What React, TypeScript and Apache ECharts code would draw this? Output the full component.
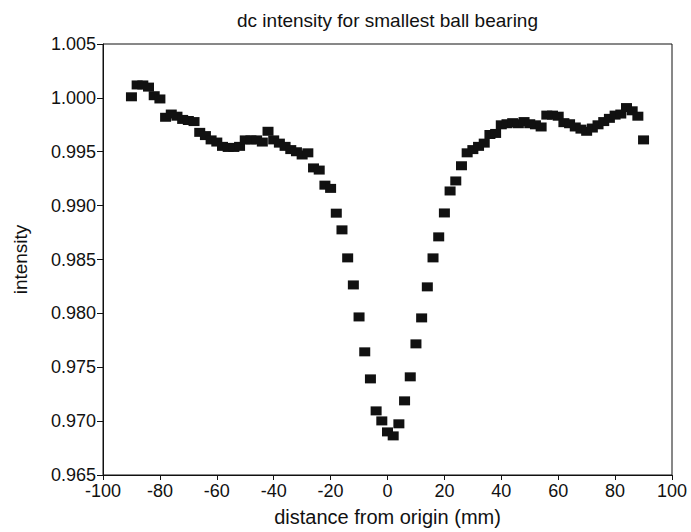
import React, { useEffect, useRef } from "react";
import * as echarts from "echarts";

const titleText = "dc intensity for smallest ball bearing";
const xAxisName = "distance from origin (mm)";
const yAxisName = "intensity";

const distances: number[] = [
  -90, -88, -86, -84, -82, -80, -78, -76, -74, -72, -70, -68, -66, -64, -62, -60,
  -58, -56, -54, -52, -50, -48, -46, -44, -42, -40, -38, -36, -34, -32, -30, -28,
  -26, -24, -22, -20, -18, -16, -14, -12, -10, -8, -6, -4, -2, 0, 2, 4, 6, 8, 10,
  12, 14, 16, 18, 20, 22, 24, 26, 28, 30, 32, 34, 36, 38, 40, 42, 44, 46, 48, 50,
  52, 54, 56, 58, 60, 62, 64, 66, 68, 70, 72, 74, 76, 78, 80, 82, 84, 86, 88, 90,
];

const intensity: number[] = [
  1.0001, 1.0012, 1.0012, 1.001, 1.0002, 0.9999, 0.9982, 0.9985, 0.9983, 0.998,
  0.9979, 0.9978, 0.9968, 0.9965, 0.9961, 0.9959, 0.9955, 0.9954, 0.9954, 0.9955,
  0.9961, 0.9961, 0.9961, 0.9959, 0.9969, 0.9961, 0.9958, 0.9955, 0.9952, 0.995,
  0.9947, 0.9949, 0.9935, 0.9933, 0.9919, 0.9916, 0.9893, 0.98775, 0.98515, 0.98264,
  0.97967, 0.97643, 0.97392, 0.97095, 0.97002, 0.969, 0.96863, 0.96975, 0.97188,
  0.97411, 0.97717, 0.97958, 0.98246, 0.98515, 0.9871, 0.98932, 0.99136, 0.99229,
  0.9937, 0.9949, 0.9952, 0.9955, 0.9958, 0.9966, 0.9967, 0.9975, 0.9976, 0.9977,
  0.9976, 0.9978, 0.9976, 0.9975, 0.9973, 0.9984, 0.9984, 0.9983, 0.9977, 0.9976,
  0.9973, 0.9971, 0.9969, 0.9972, 0.9975, 0.9978, 0.9981, 0.9984, 0.9985, 0.9991,
  0.9988, 0.9983, 0.9961,
];

const FONT = "'Liberation Sans', Arial, Helvetica, sans-serif";

export default function App() {
  const ref = useRef<HTMLDivElement>(null);
  useEffect(() => {
    if (!ref.current) return;
    const chart = echarts.init(ref.current, null, { renderer: "svg" });
    const data = distances.map((d, i) => [d, intensity[i]]);
    chart.setOption({
      animation: false,
      backgroundColor: "#ffffff",
      textStyle: { fontFamily: FONT },
      grid: {
        left: 103,
        right: 19,
        top: 44,
        bottom: 54,
        show: true,
        borderColor: "#111",
        borderWidth: 1,
        backgroundColor: "transparent",
      },
      graphic: [
        {
          type: "text",
          x: 387.5,
          y: 20,
          style: {
            text: titleText,
            fill: "#111",
            font: `19px ${FONT}`,
            textAlign: "center",
            textVerticalAlign: "middle",
          },
        },
      ],
      xAxis: {
        type: "value",
        min: -100,
        max: 100,
        interval: 20,
        name: xAxisName,
        nameLocation: "middle",
        nameGap: 32,
        nameTextStyle: { color: "#111", fontSize: 20, fontFamily: FONT },
        axisLine: { show: true, onZero: false, lineStyle: { color: "#111", width: 1 } },
        axisTick: { show: true, inside: false, length: 5, lineStyle: { color: "#111" } },
        axisLabel: { color: "#111", fontSize: 18, margin: 7, fontFamily: FONT },
        splitLine: { show: false },
      },
      yAxis: {
        type: "value",
        min: 0.965,
        max: 1.005,
        interval: 0.005,
        name: yAxisName,
        nameLocation: "middle",
        nameGap: 73,
        nameRotate: 90,
        nameTextStyle: { color: "#111", fontSize: 19, fontFamily: FONT },
        axisLine: { show: true, onZero: false, lineStyle: { color: "#111", width: 1 } },
        axisTick: { show: true, inside: false, length: 6, lineStyle: { color: "#111" } },
        axisLabel: {
          color: "#111",
          fontSize: 18,
          margin: 7,
          fontFamily: FONT,
          formatter: (v: number) => v.toFixed(3),
        },
        splitLine: { show: false },
      },
      series: [
        {
          type: "scatter",
          data,
          symbol: "rect",
          symbolSize: [11, 9],
          itemStyle: { color: "#111", opacity: 1 },
        },
      ],
    });
    return () => chart.dispose();
  }, []);
  return (
    <div
      ref={ref}
      style={{ position: "fixed", left: 0, top: 0, width: 691, height: 532 }}
    />
  );
}
